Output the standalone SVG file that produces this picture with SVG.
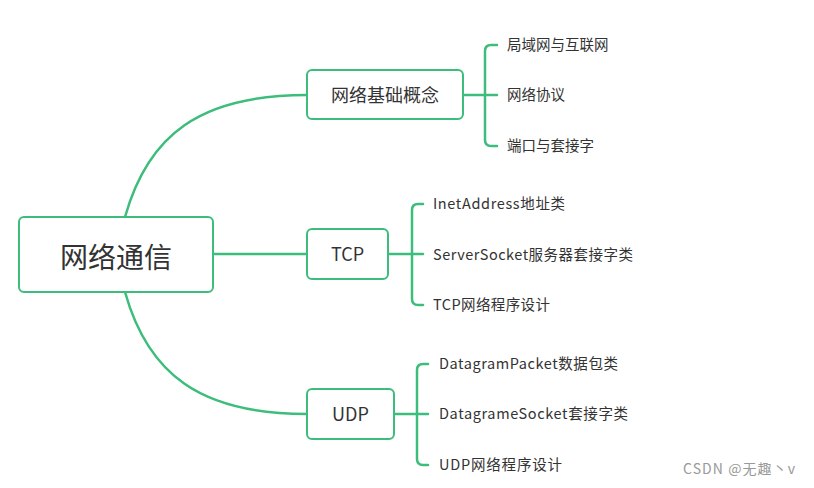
<svg xmlns="http://www.w3.org/2000/svg" width="814" height="488" viewBox="0 0 814 488">
<style>
.box{fill:#fff;stroke:#3cbd7b;stroke-width:2}
.ln{fill:none;stroke:#3cbd7b;stroke-width:2.5;stroke-linecap:round}
text{font-family:"Noto Sans CJK SC","Noto Sans",sans-serif;fill:#333}
.leaf{font-size:14.5px}
.mid{font-size:18px}
</style>
<rect width="814" height="488" fill="#fff"/>
<g id="connectors">
<path class="ln" d="M125,217 C148,135 200,95 307,95"/>
<path class="ln" d="M213,254 H307"/>
<path class="ln" d="M125,292 C148,374 200,414 307,414"/>
<path class="ln" d="M463,95 H497 M497,45 H491 Q485,45 485,51 V140 Q485,146 491,146 H497"/>
<path class="ln" d="M388,254 H423 M423,204 H418 Q412,204 412,210 V299 Q412,305 418,305 H423"/>
<path class="ln" d="M394,414 H428 M428,364 H423 Q417,364 417,370 V459 Q417,465 423,465 H428"/>
</g>
<g id="root"><rect class="box" x="19" y="217" width="194" height="75" rx="5"/><text x="116" y="268" font-size="28" text-anchor="middle">网络通信</text></g>
<g id="n1"><rect class="box" x="307" y="70" width="156" height="49" rx="5"/><text class="mid" x="385" y="101.5" text-anchor="middle">网络基础概念</text></g>
<g id="n2"><rect class="box" x="307" y="229" width="81" height="50" rx="5"/><text class="mid" x="347.5" y="260.5" text-anchor="middle">TCP</text></g>
<g id="n3"><rect class="box" x="307" y="389" width="87" height="50" rx="5"/><text class="mid" x="350.5" y="420.5" text-anchor="middle">UDP</text></g>
<g id="l1"><text class="leaf" x="507" y="50">局域网与互联网</text></g>
<g id="l2"><text class="leaf" x="507" y="100">网络协议</text></g>
<g id="l3"><text class="leaf" x="507" y="151">端口与套接字</text></g>
<g id="l4"><text class="leaf" x="433" y="209" textLength="132" lengthAdjust="spacing">InetAddress地址类</text></g>
<g id="l5"><text class="leaf" x="433" y="260" textLength="200" lengthAdjust="spacing">ServerSocket服务器套接字类</text></g>
<g id="l6"><text class="leaf" x="433" y="310" textLength="117" lengthAdjust="spacing">TCP网络程序设计</text></g>
<g id="l7"><text class="leaf" x="439" y="369" textLength="179" lengthAdjust="spacing">DatagramPacket数据包类</text></g>
<g id="l8"><text class="leaf" x="439" y="419" textLength="189" lengthAdjust="spacing">DatagrameSocket套接字类</text></g>
<g id="l9"><text class="leaf" x="439" y="470" textLength="123" lengthAdjust="spacing">UDP网络程序设计</text></g>
<text x="683" y="474" font-size="14" textLength="112" lengthAdjust="spacing" style="fill:#999">CSDN @无趣丶v</text>
</svg>
